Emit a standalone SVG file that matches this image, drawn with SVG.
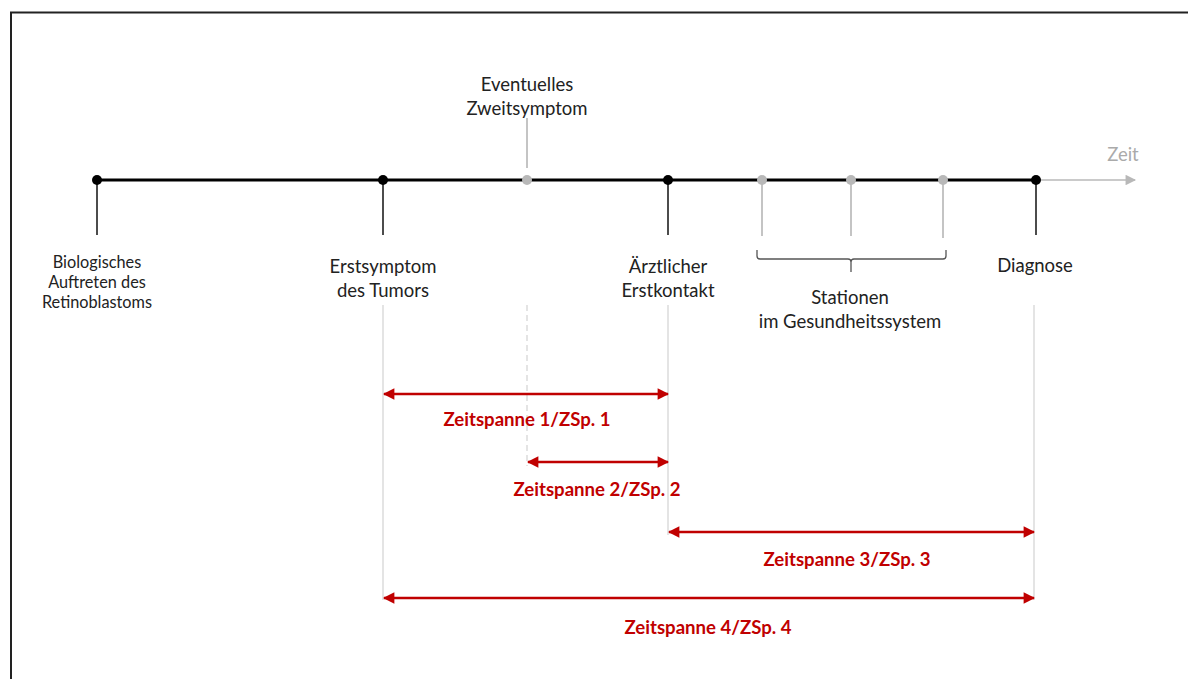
<svg xmlns="http://www.w3.org/2000/svg" width="1188" height="679" viewBox="0 0 1188 679">
<style>
.lbl{font-family:Lato,"Open Sans","Liberation Sans",sans-serif;font-size:18.5px;fill:#222;text-anchor:middle}
.sm{font-size:16.3px}
.red{font-family:Lato,"Open Sans","Liberation Sans",sans-serif;font-size:18.6px;font-weight:bold;fill:#C00000;text-anchor:middle}
.tick{stroke:#111;stroke-width:1.5}
.gtick{stroke:#b0b0b0;stroke-width:1.5}
.guide{stroke:#d6d6d6;stroke-width:1.3}
.span{stroke:#C00000;stroke-width:2.5;marker-start:url(#rs);marker-end:url(#re)}
</style>
<defs>
<marker id="re" viewBox="0 0 10 10" refX="9" refY="5" markerWidth="4.8" markerHeight="4.6" orient="auto" markerUnits="strokeWidth"><path d="M0,0 L10,5 L0,10 z" fill="#C00000"/></marker>
<marker id="rs" viewBox="0 0 10 10" refX="1" refY="5" markerWidth="4.8" markerHeight="4.6" orient="auto" markerUnits="strokeWidth"><path d="M10,0 L0,5 L10,10 z" fill="#C00000"/></marker>
<marker id="ga" viewBox="0 0 10 10" refX="9" refY="5" markerWidth="8" markerHeight="7" orient="auto" markerUnits="strokeWidth"><path d="M0,0 L10,5 L0,10 z" fill="#b8b8b8"/></marker>
</defs>
<rect x="0" y="0" width="1188" height="679" fill="#fff"/>
<path d="M11,679 V12.5 H1188" fill="none" stroke="#222" stroke-width="2"/>

<g id="connectors">
<line x1="1036" y1="180" x2="1135" y2="180" stroke="#b8b8b8" stroke-width="1.5" marker-end="url(#ga)"/>
<line x1="97" y1="180" x2="1036" y2="180" stroke="#000" stroke-width="3"/>
<line class="tick" x1="97" y1="180" x2="97" y2="235"/>
<line class="tick" x1="383" y1="180" x2="383" y2="235"/>
<line class="tick" x1="668" y1="180" x2="668" y2="235"/>
<line class="tick" x1="1036" y1="180" x2="1036" y2="235"/>
<line class="gtick" x1="527" y1="118" x2="527" y2="168"/>
<line class="gtick" x1="762" y1="180" x2="762" y2="236"/>
<line class="gtick" x1="851" y1="180" x2="851" y2="236"/>
<line class="gtick" x1="943" y1="180" x2="943" y2="238"/>
<path d="M757,250 V256 Q757,259 760,259 H848 Q851,259 851,262 V272 M851,262 Q851,259 854,259 H943 Q946,259 946,256 V250" fill="none" stroke="#555" stroke-width="1.3"/>
<line class="guide" x1="383" y1="305" x2="383" y2="600"/>
<line class="guide" x1="668" y1="305" x2="668" y2="535"/>
<line class="guide" x1="1034" y1="305" x2="1034" y2="600"/>
<line class="guide" x1="527" y1="305" x2="527" y2="466" stroke-dasharray="6,4"/>
<line class="span" x1="384" y1="394" x2="668" y2="394"/>
<line class="span" x1="528" y1="462" x2="668" y2="462"/>
<line class="span" x1="669" y1="532" x2="1034" y2="532"/>
<line class="span" x1="384" y1="598" x2="1034" y2="598"/>
</g>

<g id="n-bio"><circle cx="97" cy="180" r="5" fill="#000"/>
<text class="lbl sm" x="97" y="268">Biologisches</text>
<text class="lbl sm" x="97" y="288">Auftreten des</text>
<text class="lbl sm" x="97" y="308">Retinoblastoms</text></g>
<g id="n-erst"><circle cx="383" cy="180" r="5" fill="#000"/>
<text class="lbl" x="383" y="273">Erstsymptom</text>
<text class="lbl" x="383" y="297">des Tumors</text></g>
<g id="n-zweit"><circle cx="527" cy="180" r="5" fill="#b8b8b8"/>
<text class="lbl" x="527" y="91">Eventuelles</text>
<text class="lbl" x="527" y="115">Zweitsymptom</text></g>
<g id="n-arzt"><circle cx="668" cy="180" r="5" fill="#000"/>
<text class="lbl" x="668" y="273">Ärztlicher</text>
<text class="lbl" x="668" y="297">Erstkontakt</text></g>
<g id="n-stat"><circle cx="762" cy="180" r="5" fill="#b8b8b8"/>
<circle cx="851" cy="180" r="5" fill="#b8b8b8"/>
<circle cx="943" cy="180" r="5" fill="#b8b8b8"/>
<text class="lbl" x="850" y="304">Stationen</text>
<text class="lbl" x="850" y="328">im Gesundheitssystem</text></g>
<g id="n-diag"><circle cx="1036" cy="180" r="5" fill="#000"/>
<text class="lbl" x="1035" y="272">Diagnose</text></g>
<g id="n-zeit"><text class="lbl" x="1123" y="161" style="fill:#aaa">Zeit</text></g>

<g id="spans">
<text class="red" x="527" y="426">Zeitspanne 1/ZSp. 1</text>
<text class="red" x="597" y="496">Zeitspanne 2/ZSp. 2</text>
<text class="red" x="847" y="566">Zeitspanne 3/ZSp. 3</text>
<text class="red" x="708" y="634">Zeitspanne 4/ZSp. 4</text>
</g>
</svg>
